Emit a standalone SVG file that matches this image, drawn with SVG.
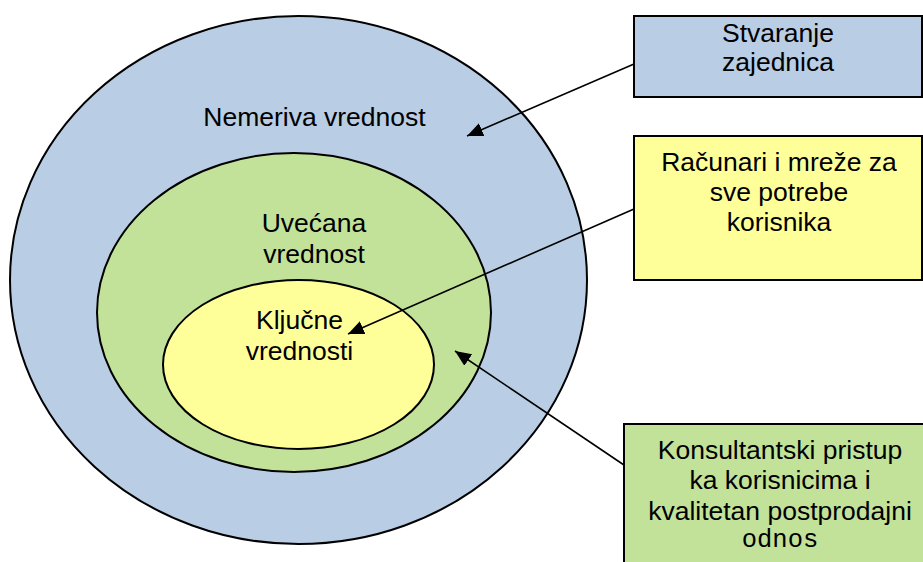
<svg xmlns="http://www.w3.org/2000/svg" width="923" height="562" viewBox="0 0 923 562">
<defs>
<style>
.s{stroke:#000;stroke-width:2}
.t{font-family:"Liberation Sans",Arial,sans-serif;font-size:26.5px;fill:#000;text-anchor:middle}
.m{font-family:"Liberation Mono","Courier New",monospace;font-size:25.5px;fill:#000;text-anchor:middle}
.c{stroke:#000;stroke-width:1.6;fill:none}
</style>
<marker id="ah" markerWidth="17" markerHeight="15" refX="16" refY="7" orient="auto" markerUnits="userSpaceOnUse">
<path d="M0,0 L16,7 L0,14 Z" fill="#000"/>
</marker>
</defs>
<rect width="923" height="562" fill="#fff"/>
<g id="outer">
<ellipse class="s" cx="298.5" cy="280" rx="288.5" ry="264" fill="#B9CDE4"/>
<text class="t" x="314.5" y="126">Nemeriva vrednost</text>
</g>
<g id="middle">
<ellipse class="s" cx="294" cy="312.5" rx="197" ry="159.5" fill="#C2E29A"/>
<text class="t" x="314" y="232">Uvećana</text>
<text class="t" x="314" y="263">vrednost</text>
</g>
<g id="inner">
<ellipse class="s" cx="298.5" cy="364.5" rx="135.5" ry="84.5" fill="#FFFF99"/>
<text class="t" x="299.5" y="329">Ključne</text>
<text class="t" x="299.5" y="360">vrednosti</text>
</g>
<g id="box-stvaranje">
<rect class="s" x="634" y="16" width="288" height="81" fill="#B9CDE4"/>
<text class="t" x="778" y="42">Stvaranje</text>
<text class="t" x="778" y="71">zajednica</text>
</g>
<g id="box-racunari">
<rect class="s" x="634" y="136" width="288" height="144" fill="#FFFF99"/>
<text class="t" x="779" y="171">Računari i mreže za</text>
<text class="t" x="779" y="201">sve potrebe</text>
<text class="t" x="779" y="231">korisnika</text>
</g>
<g id="box-konsultantski">
<rect class="s" x="624" y="424" width="320" height="160" fill="#C2E29A"/>
<text class="t" x="780" y="459">Konsultantski pristup</text>
<text class="t" x="780" y="489">ka korisnicima i</text>
<text class="t" x="780" y="520">kvalitetan postprodajni</text>
<text class="m" x="780" y="547">odnos</text>
</g>
<g id="connectors">
<line class="c" x1="634" y1="64" x2="467" y2="136" marker-end="url(#ah)"/>
<line class="c" x1="634" y1="209" x2="348" y2="334" marker-end="url(#ah)"/>
<line class="c" x1="624" y1="465" x2="455" y2="351" marker-end="url(#ah)"/>
</g>
</svg>
